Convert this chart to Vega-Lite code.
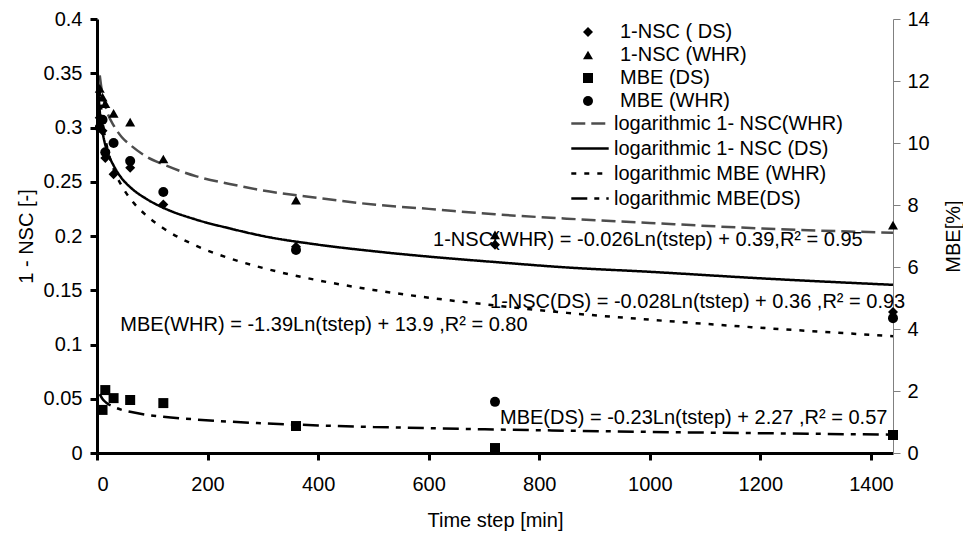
{
  "$schema": "https://vega.github.io/schema/vega-lite/v6.json",
  "width": 796,
  "height": 434,
  "autosize": {"type": "none"},
  "padding": {"left": 97, "top": 19, "right": 70, "bottom": 81},
  "background": "white",
  "config": {
    "view": {"stroke": null},
    "font": "Liberation Sans",
    "axis": {
      "labelFont": "Liberation Sans",
      "titleFont": "Liberation Sans",
      "labelFontSize": 20,
      "titleFontSize": 20,
      "titleFontWeight": "normal",
      "labelColor": "black",
      "titleColor": "black",
      "grid": false,
      "domainColor": "black",
      "tickColor": "black"
    },
    "legend": {
      "labelFont": "Liberation Sans",
      "labelFontSize": 20,
      "labelColor": "black",
      "padding": 0,
      "rowPadding": 3,
      "labelLimit": 400
    },
    "text": {"font": "Liberation Sans", "fontSize": 20, "color": "black"}
  },
  "datasets": {
    "points": [
      {"t": 5, "series": "1-NSC ( DS)", "value": 0.309},
      {"t": 10, "series": "1-NSC ( DS)", "value": 0.297},
      {"t": 15, "series": "1-NSC ( DS)", "value": 0.272},
      {"t": 30, "series": "1-NSC ( DS)", "value": 0.257},
      {"t": 60, "series": "1-NSC ( DS)", "value": 0.263},
      {"t": 120, "series": "1-NSC ( DS)", "value": 0.229},
      {"t": 360, "series": "1-NSC ( DS)", "value": 0.19},
      {"t": 720, "series": "1-NSC ( DS)", "value": 0.192},
      {"t": 1440, "series": "1-NSC ( DS)", "value": 0.13},
      {"t": 5, "series": "1-NSC (WHR)", "value": 0.336},
      {"t": 10, "series": "1-NSC (WHR)", "value": 0.328},
      {"t": 15, "series": "1-NSC (WHR)", "value": 0.322},
      {"t": 30, "series": "1-NSC (WHR)", "value": 0.313},
      {"t": 60, "series": "1-NSC (WHR)", "value": 0.305},
      {"t": 120, "series": "1-NSC (WHR)", "value": 0.271},
      {"t": 360, "series": "1-NSC (WHR)", "value": 0.233},
      {"t": 720, "series": "1-NSC (WHR)", "value": 0.201},
      {"t": 1440, "series": "1-NSC (WHR)", "value": 0.21},
      {"t": 10, "series": "MBE (DS)", "value": 1.39},
      {"t": 15, "series": "MBE (DS)", "value": 2.03},
      {"t": 30, "series": "MBE (DS)", "value": 1.77},
      {"t": 60, "series": "MBE (DS)", "value": 1.71},
      {"t": 120, "series": "MBE (DS)", "value": 1.61},
      {"t": 360, "series": "MBE (DS)", "value": 0.87},
      {"t": 720, "series": "MBE (DS)", "value": 0.16},
      {"t": 1440, "series": "MBE (DS)", "value": 0.58},
      {"t": 5, "series": "MBE (WHR)", "value": 10.5},
      {"t": 10, "series": "MBE (WHR)", "value": 10.75},
      {"t": 15, "series": "MBE (WHR)", "value": 9.7},
      {"t": 30, "series": "MBE (WHR)", "value": 10.0},
      {"t": 60, "series": "MBE (WHR)", "value": 9.42},
      {"t": 120, "series": "MBE (WHR)", "value": 8.42},
      {"t": 360, "series": "MBE (WHR)", "value": 6.55},
      {"t": 720, "series": "MBE (WHR)", "value": 1.65},
      {"t": 1440, "series": "MBE (WHR)", "value": 4.35}
    ],
    "trends": [
      {"t": 5, "trend": "logarithmic 1- NSC(WHR)", "value": 0.348},
      {"t": 10, "trend": "logarithmic 1- NSC(WHR)", "value": 0.330},
      {"t": 15, "trend": "logarithmic 1- NSC(WHR)", "value": 0.320},
      {"t": 20, "trend": "logarithmic 1- NSC(WHR)", "value": 0.312},
      {"t": 30, "trend": "logarithmic 1- NSC(WHR)", "value": 0.302},
      {"t": 45, "trend": "logarithmic 1- NSC(WHR)", "value": 0.291},
      {"t": 60, "trend": "logarithmic 1- NSC(WHR)", "value": 0.284},
      {"t": 90, "trend": "logarithmic 1- NSC(WHR)", "value": 0.273},
      {"t": 120, "trend": "logarithmic 1- NSC(WHR)", "value": 0.266},
      {"t": 180, "trend": "logarithmic 1- NSC(WHR)", "value": 0.255},
      {"t": 240, "trend": "logarithmic 1- NSC(WHR)", "value": 0.248},
      {"t": 300, "trend": "logarithmic 1- NSC(WHR)", "value": 0.242},
      {"t": 400, "trend": "logarithmic 1- NSC(WHR)", "value": 0.235},
      {"t": 500, "trend": "logarithmic 1- NSC(WHR)", "value": 0.229},
      {"t": 600, "trend": "logarithmic 1- NSC(WHR)", "value": 0.225},
      {"t": 720, "trend": "logarithmic 1- NSC(WHR)", "value": 0.220},
      {"t": 850, "trend": "logarithmic 1- NSC(WHR)", "value": 0.216},
      {"t": 1000, "trend": "logarithmic 1- NSC(WHR)", "value": 0.212},
      {"t": 1200, "trend": "logarithmic 1- NSC(WHR)", "value": 0.207},
      {"t": 1440, "trend": "logarithmic 1- NSC(WHR)", "value": 0.203},
      {"t": 1.5, "trend": "logarithmic 1- NSC (DS)", "value": 0.349},
      {"t": 3, "trend": "logarithmic 1- NSC (DS)", "value": 0.329},
      {"t": 5, "trend": "logarithmic 1- NSC (DS)", "value": 0.315},
      {"t": 10, "trend": "logarithmic 1- NSC (DS)", "value": 0.296},
      {"t": 15, "trend": "logarithmic 1- NSC (DS)", "value": 0.284},
      {"t": 20, "trend": "logarithmic 1- NSC (DS)", "value": 0.276},
      {"t": 30, "trend": "logarithmic 1- NSC (DS)", "value": 0.265},
      {"t": 45, "trend": "logarithmic 1- NSC (DS)", "value": 0.253},
      {"t": 60, "trend": "logarithmic 1- NSC (DS)", "value": 0.245},
      {"t": 90, "trend": "logarithmic 1- NSC (DS)", "value": 0.234},
      {"t": 120, "trend": "logarithmic 1- NSC (DS)", "value": 0.226},
      {"t": 180, "trend": "logarithmic 1- NSC (DS)", "value": 0.215},
      {"t": 240, "trend": "logarithmic 1- NSC (DS)", "value": 0.207},
      {"t": 300, "trend": "logarithmic 1- NSC (DS)", "value": 0.200},
      {"t": 400, "trend": "logarithmic 1- NSC (DS)", "value": 0.192},
      {"t": 500, "trend": "logarithmic 1- NSC (DS)", "value": 0.186},
      {"t": 600, "trend": "logarithmic 1- NSC (DS)", "value": 0.181},
      {"t": 720, "trend": "logarithmic 1- NSC (DS)", "value": 0.176},
      {"t": 850, "trend": "logarithmic 1- NSC (DS)", "value": 0.171},
      {"t": 1000, "trend": "logarithmic 1- NSC (DS)", "value": 0.167},
      {"t": 1200, "trend": "logarithmic 1- NSC (DS)", "value": 0.161},
      {"t": 1440, "trend": "logarithmic 1- NSC (DS)", "value": 0.155},
      {"t": 5, "trend": "logarithmic MBE (WHR)", "value": 11.66},
      {"t": 10, "trend": "logarithmic MBE (WHR)", "value": 10.70},
      {"t": 15, "trend": "logarithmic MBE (WHR)", "value": 10.14},
      {"t": 20, "trend": "logarithmic MBE (WHR)", "value": 9.74},
      {"t": 30, "trend": "logarithmic MBE (WHR)", "value": 9.17},
      {"t": 45, "trend": "logarithmic MBE (WHR)", "value": 8.61},
      {"t": 60, "trend": "logarithmic MBE (WHR)", "value": 8.21},
      {"t": 90, "trend": "logarithmic MBE (WHR)", "value": 7.65},
      {"t": 120, "trend": "logarithmic MBE (WHR)", "value": 7.25},
      {"t": 180, "trend": "logarithmic MBE (WHR)", "value": 6.68},
      {"t": 240, "trend": "logarithmic MBE (WHR)", "value": 6.28},
      {"t": 300, "trend": "logarithmic MBE (WHR)", "value": 5.97},
      {"t": 400, "trend": "logarithmic MBE (WHR)", "value": 5.57},
      {"t": 500, "trend": "logarithmic MBE (WHR)", "value": 5.26},
      {"t": 600, "trend": "logarithmic MBE (WHR)", "value": 5.01},
      {"t": 720, "trend": "logarithmic MBE (WHR)", "value": 4.76},
      {"t": 850, "trend": "logarithmic MBE (WHR)", "value": 4.52},
      {"t": 1000, "trend": "logarithmic MBE (WHR)", "value": 4.30},
      {"t": 1200, "trend": "logarithmic MBE (WHR)", "value": 4.04},
      {"t": 1440, "trend": "logarithmic MBE (WHR)", "value": 3.77},
      {"t": 5, "trend": "logarithmic MBE(DS)", "value": 1.90},
      {"t": 10, "trend": "logarithmic MBE(DS)", "value": 1.74},
      {"t": 15, "trend": "logarithmic MBE(DS)", "value": 1.65},
      {"t": 20, "trend": "logarithmic MBE(DS)", "value": 1.58},
      {"t": 30, "trend": "logarithmic MBE(DS)", "value": 1.49},
      {"t": 45, "trend": "logarithmic MBE(DS)", "value": 1.39},
      {"t": 60, "trend": "logarithmic MBE(DS)", "value": 1.33},
      {"t": 90, "trend": "logarithmic MBE(DS)", "value": 1.23},
      {"t": 120, "trend": "logarithmic MBE(DS)", "value": 1.17},
      {"t": 180, "trend": "logarithmic MBE(DS)", "value": 1.08},
      {"t": 240, "trend": "logarithmic MBE(DS)", "value": 1.01},
      {"t": 300, "trend": "logarithmic MBE(DS)", "value": 0.96},
      {"t": 400, "trend": "logarithmic MBE(DS)", "value": 0.89},
      {"t": 500, "trend": "logarithmic MBE(DS)", "value": 0.84},
      {"t": 600, "trend": "logarithmic MBE(DS)", "value": 0.80},
      {"t": 720, "trend": "logarithmic MBE(DS)", "value": 0.76},
      {"t": 850, "trend": "logarithmic MBE(DS)", "value": 0.72},
      {"t": 1000, "trend": "logarithmic MBE(DS)", "value": 0.68},
      {"t": 1200, "trend": "logarithmic MBE(DS)", "value": 0.64},
      {"t": 1440, "trend": "logarithmic MBE(DS)", "value": 0.59}
    ],
    "notes": [
      {"t": 608, "value": 0.196, "label": "1-NSC(WHR) = -0.026Ln(tstep) + 0.39,R² = 0.95"},
      {"t": 711, "value": 0.139, "label": "1-NSC(DS) = -0.028Ln(tstep) + 0.36 ,R² = 0.93"},
      {"t": 42, "value": 0.118, "label": "MBE(WHR) = -1.39Ln(tstep) + 13.9 ,R² = 0.80"},
      {"t": 729, "value": 0.032, "label": "MBE(DS) = -0.23Ln(tstep) + 2.27 ,R² = 0.57"}
    ]
  },
  "encoding": {
    "x": {
      "field": "t",
      "type": "quantitative",
      "scale": {"domain": [0, 1440], "nice": false},
      "axis": {
        "values": [0, 200, 400, 600, 800, 1000, 1200, 1400],
        "format": "d",
        "title": "Time step [min]",
        "domainWidth": 3,
        "tickWidth": 3,
        "tickSize": 7,
        "labelPadding": 14,
        "titlePadding": 16
      }
    }
  },
  "layer": [
    {
      "encoding": {
        "y": {
          "field": "value",
          "type": "quantitative",
          "scale": {"domain": [0, 0.4], "nice": false},
          "axis": {
            "orient": "left",
            "values": [0, 0.05, 0.1, 0.15, 0.2, 0.25, 0.3, 0.35, 0.4],
            "format": "~g",
            "title": "1 - NSC [-]",
            "domainWidth": 3,
            "tickWidth": 3,
            "tickSize": 7,
            "labelPadding": 8,
            "titlePadding": 7
          }
        }
      },
      "layer": [
        {
          "data": {"name": "trends"},
          "transform": [{"filter": "indexof(datum.trend, 'NSC') >= 0"}],
          "mark": {"type": "line", "strokeWidth": 2.5, "interpolate": "monotone"},
          "encoding": {
            "color": {
              "field": "trend",
              "type": "nominal",
              "scale": {
                "domain": ["logarithmic 1- NSC(WHR)", "logarithmic 1- NSC (DS)", "logarithmic MBE (WHR)", "logarithmic MBE(DS)"],
                "range": ["#4d4d4d", "black", "black", "black"]
              },
              "legend": {"title": null, "orient": "none", "legendX": 473, "legendY": 95, "symbolSize": 1400, "symbolStrokeWidth": 2.5, "symbolType": "stroke", "labelOffset": 4, "rowPadding": 4, "clipHeight": 19}
            },
            "strokeDash": {
              "field": "trend",
              "type": "nominal",
              "scale": {
                "domain": ["logarithmic 1- NSC(WHR)", "logarithmic 1- NSC (DS)", "logarithmic MBE (WHR)", "logarithmic MBE(DS)"],
                "range": [[14, 6], [1, 0], [5, 8], [16, 7, 5, 7]]
              },
              "legend": {"title": null, "orient": "none", "legendX": 473, "legendY": 95, "symbolSize": 1400, "symbolStrokeWidth": 2.5, "symbolType": "stroke", "labelOffset": 4, "rowPadding": 4, "clipHeight": 19}
            }
          }
        },
        {
          "data": {"name": "points"},
          "transform": [{"filter": "indexof(datum.series, 'NSC') >= 0"}],
          "mark": {"type": "point", "filled": true, "size": 100, "color": "black", "opacity": 1},
          "encoding": {
            "shape": {
              "field": "series",
              "type": "nominal",
              "scale": {
                "domain": ["1-NSC ( DS)", "1-NSC (WHR)", "MBE (DS)", "MBE (WHR)"],
                "range": ["diamond", "triangle-up", "square", "circle"]
              },
              "legend": {"title": null, "orient": "none", "legendX": 481, "legendY": 3, "symbolSize": 100, "symbolFillColor": "black", "symbolStrokeColor": "black", "labelOffset": 22}
            }
          }
        },
        {
          "data": {"name": "notes"},
          "mark": {"type": "text", "align": "left", "baseline": "middle", "fontSize": 20},
          "encoding": {"text": {"field": "label", "type": "nominal"}}
        }
      ]
    },
    {
      "encoding": {
        "y": {
          "field": "value",
          "type": "quantitative",
          "scale": {"domain": [0, 14], "nice": false},
          "axis": {
            "orient": "right",
            "values": [0, 2, 4, 6, 8, 10, 12, 14],
            "title": "MBE[%]",
            "titleAngle": -90,
            "domainColor": "#808080",
            "domainWidth": 1,
            "tickColor": "#808080",
            "tickWidth": 1,
            "tickSize": 7,
            "labelPadding": 7,
            "titlePadding": 34
          }
        }
      },
      "layer": [
        {
          "data": {"name": "trends"},
          "transform": [{"filter": "indexof(datum.trend, 'MBE') >= 0"}],
          "mark": {"type": "line", "strokeWidth": 2.5, "interpolate": "monotone"},
          "encoding": {
            "color": {"field": "trend", "type": "nominal"},
            "strokeDash": {"field": "trend", "type": "nominal"}
          }
        },
        {
          "data": {"name": "points"},
          "transform": [{"filter": "indexof(datum.series, 'MBE') >= 0"}],
          "mark": {"type": "point", "filled": true, "size": 100, "color": "black", "opacity": 1},
          "encoding": {"shape": {"field": "series", "type": "nominal"}}
        }
      ]
    }
  ],
  "resolve": {"scale": {"y": "independent"}}
}
